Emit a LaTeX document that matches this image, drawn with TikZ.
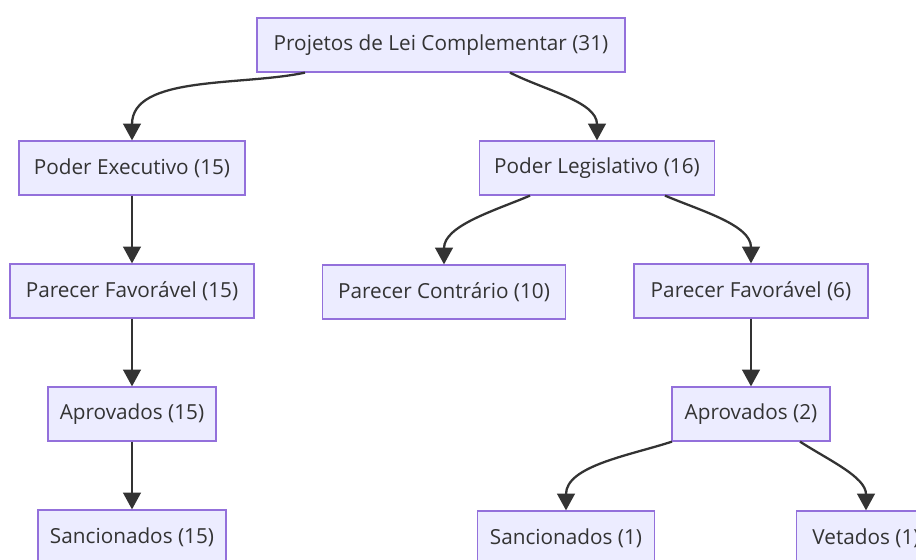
\documentclass[tikz,border=0pt]{standalone}
\usepackage{fontspec}
\setmainfont{Open Sans}
\usetikzlibrary{arrows.meta,positioning}
\definecolor{boxfill}{HTML}{ECECFF}
\definecolor{boxline}{HTML}{9370DB}
\definecolor{ink}{HTML}{333333}
\newcommand{\px}{0.02cm}
\tikzset{
  >={Triangle[length=9.5pt,width=10pt]},
  box/.style={draw=boxline,fill=boxfill,line width=0.7pt,text=ink,
    minimum height=54*\px,minimum width=#1*\px,inner sep=0pt,
    font=\fontsize{11.8}{13}\selectfont},
  box/.default=200,
  flow/.style={->,draw=ink,line width=1.3pt},
}
\begin{document}
\begin{tikzpicture}[x=\px,y=-\px]
  \useasboundingbox (0,0) rectangle (916,559);
  % tree nodes
  \node[box=368] (root) at (441,45) {Projetos de Lei Complementar (31)};
  \node[box=226] (exec) at (132,168) {Poder Executivo (15)};
  \node[box=235] (legis) at (597,168) {Poder Legislativo (16)};
  \node[box=244] (favA) at (132,291) {Parecer Favorável (15)};
  \node[box=243] (contra) at (444,292) {Parecer Contrário (10)};
  \node[box=234] (favB) at (751,291) {Parecer Favorável (6)};
  \node[box=168] (aprA) at (132,414) {Aprovados (15)};
  \node[box=158] (aprB) at (751,414) {Aprovados (2)};
  \node[box=188] (sancA) at (132,537) {Sancionados (15)};
  \node[box=177] (sancB) at (566,538) {Sancionados (1)};
  \node[box=139] (vet) at (866,538) {Vetados (1)};
  % connectors
  \draw[flow] ([xshift=-136*\px]root.south) to[out=192,in=90,looseness=0.9] (exec.north);
  \draw[flow] ([xshift=69*\px]root.south) to[out=-27,in=90,looseness=0.9] (legis.north);
  \draw[flow] (exec) -- (favA);
  \draw[flow] (favA) -- (aprA);
  \draw[flow] (aprA) -- (sancA);
  \draw[flow] ([xshift=-67*\px]legis.south) to[out=203,in=90,looseness=0.9] (contra.north);
  \draw[flow] ([xshift=68*\px]legis.south) to[out=-23,in=90,looseness=0.9] (favB.north);
  \draw[flow] (favB) -- (aprB);
  \draw[flow] ([xshift=-79*\px]aprB.south) to[out=198,in=90,looseness=0.9] (sancB.north);
  \draw[flow] ([xshift=49*\px]aprB.south) to[out=-33,in=90,looseness=0.9] (vet.north);
\end{tikzpicture}
\end{document}
